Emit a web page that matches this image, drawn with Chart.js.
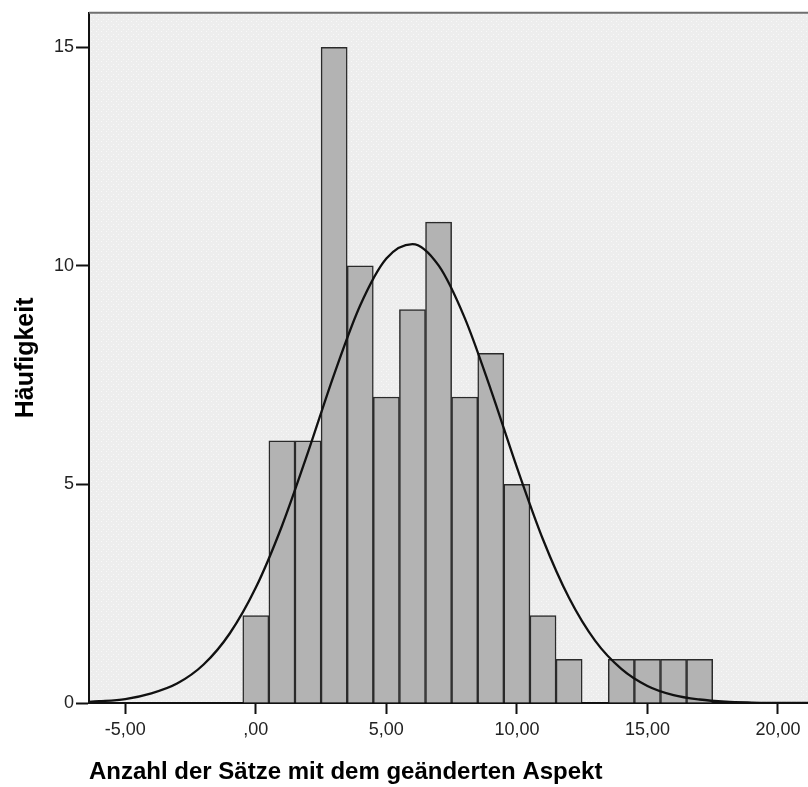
<!DOCTYPE html>
<html>
<head>
<meta charset="utf-8">
<script src="https://cdn.jsdelivr.net/npm/chart.js@4/dist/chart.umd.min.js"></script>
<style>
  html, body { margin: 0; padding: 0; background: #ffffff; }
  #wrap { width: 808px; height: 787px; position: relative; }
</style>
</head>
<body>
<div id="wrap"><canvas id="hist"></canvas></div>
<script>
// histogram bins (bin centre, width 1) and counts
const binCenters = [0, 1, 2, 3, 4, 5, 6, 7, 8, 9, 10, 11, 12, 13, 14, 15, 16, 17];
const binCounts  = [2, 6, 6, 15, 10, 7, 9, 11, 7, 8, 5, 2, 1, 0, 1, 1, 1, 1];

const curveX = [-7, -6, -5, -4, -3, -2, -1, 0, 1, 2, 3, 4, 5, 6, 7, 8, 9, 10, 11, 12, 13, 14, 15, 16, 17, 18, 19, 20, 21, 22];
const curveY = [0.01, 0.04, 0.09, 0.22, 0.45, 0.88, 1.59, 2.64, 4.05, 5.74, 7.52, 9.10, 10.17, 10.50, 10.01, 8.81, 7.17, 5.39, 3.74, 2.40, 1.42, 0.78, 0.39, 0.18, 0.08, 0.03, 0.01, 0.00, 0.00, 0.00];

// axis ticks
const xTickValues = [-5, 0, 5, 10, 15, 20];
const xTickLabels = ["-5,00", ",00", "5,00", "10,00", "15,00", "20,00"];
const yTickValues = [0, 5, 10, 15];
const yTickLabels = ["0", "5", "10", "15"];

const xTitle = "Anzahl der Sätze mit dem geänderten Aspekt";
const yTitle = "Häufigkeit";

const FONT = "'Liberation Sans', Arial, Helvetica, sans-serif";

// light grey plot background with a faint dotted texture
function makeDotPattern() {
    const c = document.createElement("canvas");
    c.width = 5;
    c.height = 5;
    const g = c.getContext("2d");
    g.fillStyle = "#ededed";
    g.fillRect(0, 0, 5, 5);
    g.fillStyle = "#f8f8f8";
    g.fillRect(1, 1, 1, 1);
    g.fillRect(3, 4, 1, 1);
    return g.createPattern(c, "repeat");
}

const plotFrame = {
    id: "plotFrame",
    beforeDraw(chart) {
        const a = chart.chartArea;
        const ctx = chart.ctx;
        ctx.save();
        ctx.fillStyle = makeDotPattern();
        ctx.fillRect(a.left, a.top, a.right - a.left, a.bottom - a.top);
        ctx.restore();
    },
    afterDraw(chart) {
        const a = chart.chartArea;
        const ctx = chart.ctx;
        ctx.save();
        ctx.strokeStyle = "#6f6f6f";
        ctx.lineWidth = 2;
        ctx.beginPath();
        ctx.moveTo(a.left, a.top);
        ctx.lineTo(a.right, a.top);
        ctx.stroke();
        ctx.restore();
    }
};

new Chart(document.getElementById("hist"), {
    type: "bar",
    data: {
        datasets: [
            {
                type: "line",
                data: curveX.map((x, i) => ({ x: x, y: curveY[i] })),
                borderColor: "#111111",
                borderWidth: 2.3,
                pointRadius: 0,
                fill: false,
                cubicInterpolationMode: "monotone",
                order: 0
            },
            {
                type: "bar",
                data: binCenters.map((x, i) => ({ x: x, y: binCounts[i] })),
                backgroundColor: "#b3b3b3",
                borderColor: "#2a2a2a",
                borderWidth: 1.5,
                barPercentage: 1,
                categoryPercentage: 1,
                order: 1
            }
        ]
    },
    options: {
        responsive: true,
        maintainAspectRatio: false,
        animation: false,
        layout: { padding: { top: 10, right: 0, left: 0, bottom: 0 } },
        plugins: {
            legend: { display: false },
            tooltip: { enabled: false }
        },
        scales: {
            x: {
                type: "linear",
                min: -6.39,
                max: 21.15,
                offset: false,
                afterBuildTicks: (s) => { s.ticks = xTickValues.map(v => ({ value: v })); },
                afterFit: (s) => { s.height = 84; },
                ticks: {
                    color: "#222222",
                    font: { family: FONT, size: 18 },
                    padding: 5,
                    maxRotation: 0,
                    callback: (v) => xTickLabels[xTickValues.indexOf(v)]
                },
                grid: {
                    drawOnChartArea: false,
                    drawTicks: true,
                    tickLength: 11,
                    tickWidth: 2,
                    color: "#111111",
                    offset: false
                },
                border: { color: "#111111", width: 2 },
                title: {
                    display: true,
                    text: xTitle,
                    align: "start",
                    color: "#000000",
                    font: { family: FONT, size: 24, weight: "bold" },
                    padding: { top: 0, bottom: 0 }
                }
            },
            y: {
                min: 0,
                max: 15.79,
                afterBuildTicks: (s) => { s.ticks = yTickValues.map(v => ({ value: v })); },
                afterFit: (s) => { s.width = 89; },
                ticks: {
                    color: "#222222",
                    font: { family: FONT, size: 18 },
                    padding: 2,
                    callback: (v) => yTickLabels[yTickValues.indexOf(v)]
                },
                grid: {
                    drawOnChartArea: false,
                    drawTicks: true,
                    tickLength: 13,
                    tickWidth: 2,
                    color: "#111111"
                },
                border: { color: "#111111", width: 2 },
                title: {
                    display: true,
                    text: yTitle,
                    color: "#000000",
                    font: { family: FONT, size: 25, weight: "bold" },
                    padding: { top: 11, bottom: 0 }
                }
            }
        }
    },
    plugins: [plotFrame]
});
</script>
</body>
</html>
